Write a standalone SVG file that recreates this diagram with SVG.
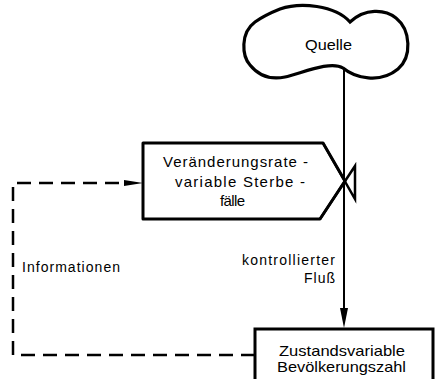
<svg xmlns="http://www.w3.org/2000/svg" width="437" height="379" viewBox="0 0 437 379">
<style>
text{font-family:"Liberation Sans",Arial,sans-serif;font-size:14px;fill:#000}
.n{font-size:15px}
.box{fill:#fff;stroke:#000;stroke-width:3;stroke-linejoin:round}
.flow{fill:none;stroke:#000;stroke-width:2}
.info{fill:none;stroke:#000;stroke-width:2.5;stroke-dasharray:14 8}
</style>
<g id="connectors">
<line class="flow" x1="344" y1="68" x2="344" y2="312"/>
<path d="M340 308 L344 328 L348 308 Z" fill="#000"/>
<polyline class="info" points="255,355 13,355 13,183 126,183"/>
<path d="M124 180 L143 183 L124 186 Z" fill="#000"/>
</g>
<g id="quelle">
<path d="M343 68 C355 78 380 84 398 69 C412 57 411 30 396 18 C385 9 365 8 350 22 C335 5 300 2 280 9 C270 13 262 17 255 22 C240 33 242 56 250 65 C258 75 270 80 285 77 C300 74 330 60 343 68 Z" fill="#fff" stroke="#000" stroke-width="3.2"/>
<text class="n" x="305" y="50" textLength="47" lengthAdjust="spacingAndGlyphs">Quelle</text>
</g>
<g id="rate">
<path class="box" d="M143 143 L323 143 L345 181 L320 219 L143 219 Z"/>
<path d="M323 143 L355 199 L355 166 L320 219" fill="none" stroke="#000" stroke-width="2.5" stroke-linejoin="miter"/>
<text class="n" x="163" y="167" textLength="145">Veränderungsrate -</text>
<text class="n" x="175" y="187" textLength="130">variable Sterbe -</text>
<text class="n" x="220" y="206" textLength="25">fälle</text>
</g>
<g id="bestand">
<path d="M255 379 L255 329 L433 329 L433 379" fill="#fff" stroke="#000" stroke-width="3"/>
<text class="n" x="279" y="356" textLength="126" lengthAdjust="spacingAndGlyphs">Zustandsvariable</text>
<text class="n" x="277" y="372" textLength="129" lengthAdjust="spacingAndGlyphs">Bevölkerungszahl</text>
</g>
<g id="labels">
<text x="242" y="265" textLength="93">kontrollierter</text>
<text x="304" y="283" textLength="31">Fluß</text>
<text x="22" y="272" textLength="98">Informationen</text>
</g>
</svg>
